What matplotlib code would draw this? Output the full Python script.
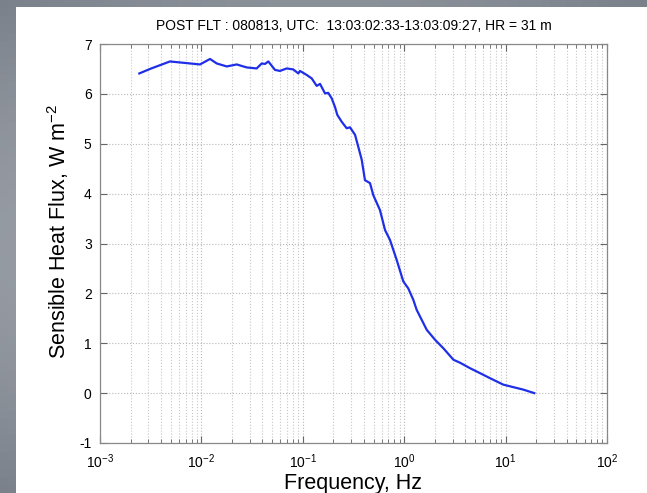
import numpy as np
import matplotlib
matplotlib.use("Agg")
import matplotlib.pyplot as plt
from matplotlib.patches import Rectangle
from matplotlib.colors import LinearSegmentedColormap
from matplotlib.ticker import LogLocator

plt.rcParams['font.family'] = ['Liberation Sans', 'DejaVu Sans']
plt.rcParams['mathtext.fontset'] = 'custom'
plt.rcParams['mathtext.rm'] = 'Liberation Sans'
plt.rcParams['mathtext.it'] = 'Liberation Sans:italic'
plt.rcParams['axes.unicode_minus'] = False

# frequency (log10 Hz) and sensible heat flux (W m^-2)
log_freq = [-2.612, -2.507, -2.310, -2.211, -2.014, -1.915, -1.849, -1.750, -1.652,
            -1.553, -1.455, -1.405, -1.373, -1.340, -1.274, -1.225, -1.159, -1.094,
            -1.044, -1.028, -0.962, -0.912, -0.863, -0.830, -0.781, -0.749, -0.715,
            -0.683, -0.660, -0.616, -0.567, -0.535, -0.485, -0.453, -0.419, -0.387,
            -0.337, -0.305, -0.239, -0.189, -0.140, -0.074, -0.009, 0.040, 0.090,
            0.123, 0.222, 0.304, 0.386, 0.485, 0.550, 0.649, 0.748, 0.846, 0.977,
            1.076, 1.175, 1.283]
flux = [6.41, 6.50, 6.65, 6.63, 6.59, 6.70, 6.61, 6.55, 6.59,
        6.53, 6.51, 6.61, 6.60, 6.65, 6.48, 6.46, 6.51, 6.49,
        6.41, 6.46, 6.38, 6.31, 6.16, 6.20, 6.01, 6.02, 5.91,
        5.74, 5.58, 5.44, 5.31, 5.33, 5.18, 4.94, 4.68, 4.27,
        4.21, 3.97, 3.67, 3.27, 3.07, 2.67, 2.24, 2.10, 1.87,
        1.67, 1.27, 1.07, 0.90, 0.67, 0.61, 0.50, 0.40, 0.30, 0.17,
        0.12, 0.07, 0.00]

title = "POST FLT : 080813, UTC:  13:03:02:33-13:03:09:27, HR = 31 m"

W, H = 647, 493
fig = plt.figure(figsize=(W / 100, H / 100), dpi=100)

# grey photo-like backdrop with white panel
bg = fig.add_axes([0, 0, 1, 1], zorder=-10)
yy, xx = np.mgrid[0:1:60j, 0:1:80j]
shade = 0.45 + 0.25 * np.sin(np.pi * yy) * (1 - 0.3 * xx) + 0.15 * np.sin(np.pi * xx)
grey = LinearSegmentedColormap.from_list('grey', ['#4d5561', '#b4b8be'])
bg.imshow(shade, cmap=grey, vmin=0, vmax=1, aspect='auto', extent=[0, 1, 0, 1])
bg.add_patch(Rectangle((16 / W, 0), 1, 1 - 7 / H, facecolor='white', edgecolor='none'))
bg.set_xlim(0, 1)
bg.set_ylim(0, 1)
bg.axis('off')

ax = fig.add_axes([100 / W, 1 - 443 / H, 507 / W, 399 / H])
ax.plot(10 ** np.array(log_freq), flux, color='#1f2fe8', lw=1.6)

ax.set_xscale('log')
ax.set_xlim(1e-3, 1e2)
ax.set_ylim(-1, 7)
ax.set_yticks(range(-1, 8))
ax.xaxis.set_major_locator(LogLocator(base=10, numticks=10))
ax.xaxis.set_minor_locator(LogLocator(base=10, subs=np.arange(2, 10), numticks=20))

ax.grid(True, which='major', linestyle=':', color='#b8b8b8', lw=0.8)
ax.grid(True, which='minor', axis='x', linestyle=':', color='#c8c8c8', lw=0.8)

ax.tick_params(which='both', direction='in', top=True, right=True, colors='#666666',
               labelcolor='black', labelsize=10)
ax.tick_params(which='major', length=5)
ax.tick_params(which='minor', length=3)
ax.tick_params(axis='x', which='major', pad=7)
ax.tick_params(axis='y', which='major', pad=6)
for s in ax.spines.values():
    s.set_color('#888888')
    s.set_linewidth(0.9)

ax.set_title(title, fontsize=10, pad=10)
ax.set_xlabel('Frequency, Hz', fontsize=15.5)
ax.set_ylabel('Sensible Heat Flux, W m$^{-2}$', fontsize=15.5)
ax.xaxis.set_label_coords(0.5, -0.076)
ax.yaxis.set_label_coords(-0.058, 0.53)

fig.savefig('out.png', dpi=100)
